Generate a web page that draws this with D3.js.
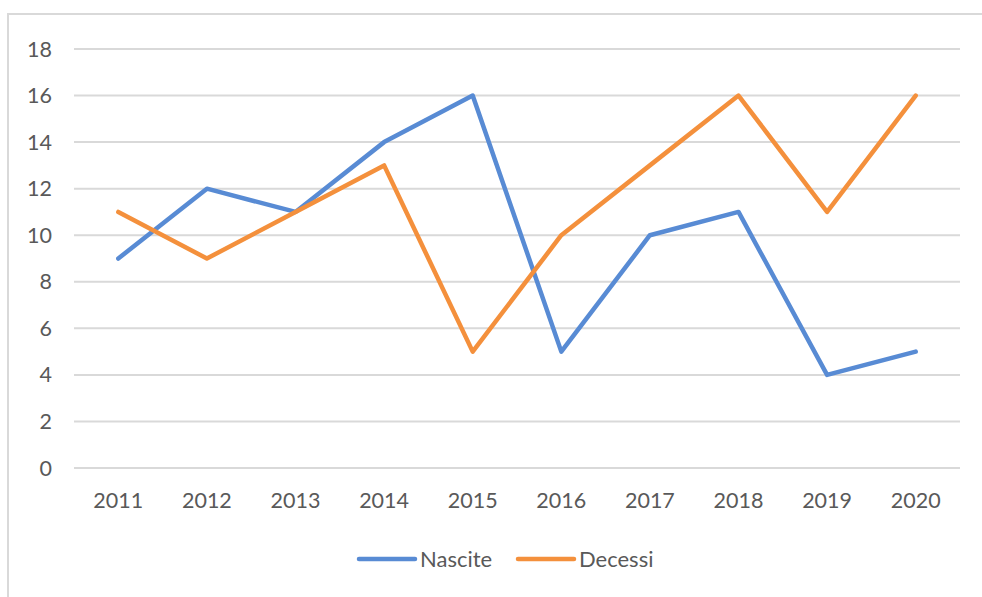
<!DOCTYPE html>
<html><head><meta charset="utf-8">
<script src="https://cdn.jsdelivr.net/npm/d3@7"></script>
<style>body{margin:0;background:#fff}svg{display:block}</style>
</head><body>
<svg id="c" width="982" height="597"></svg>
<script>
const years = ["2011","2012","2013","2014","2015","2016","2017","2018","2019","2020"];
const nascite = [9,12,11,14,16,5,10,11,4,5];
const decessi = [11,9,11,13,5,10,13,16,11,16];
const yTicks = [0,2,4,6,8,10,12,14,16,18];
const seriesNames = ["Nascite","Decessi"];
const colors = ["#588BD4","#F4903C"];

const svg = d3.select("#c");
const font = "Lato, 'Open Sans', sans-serif";
const textColor = "#595959";

svg.append("rect").attr("x",8).attr("y",14).attr("width",1000).attr("height",620)
  .attr("fill","#fff").attr("stroke","#d9d9d9").attr("stroke-width",2);

const x = d3.scaleBand().domain(years).range([74,960]);
const y = d3.scaleLinear().domain([0,18]).range([468,49]);

const g = svg.append("g");
g.selectAll("line.grid").data(yTicks).join("line")
  .attr("x1",74).attr("x2",960)
  .attr("y1",d=>y(d)).attr("y2",d=>y(d))
  .attr("stroke","#d9d9d9").attr("stroke-width",2);

g.selectAll("text.yl").data(yTicks).join("text")
  .attr("x",52).attr("y",d=>y(d)).attr("dy","0.35em")
  .attr("text-anchor","end").attr("font-family",font).attr("font-size",21.5)
  .attr("fill",textColor).text(d=>d);

g.selectAll("text.xl").data(years).join("text")
  .attr("x",d=>x(d)+x.bandwidth()/2).attr("y",500).attr("dy","0.35em")
  .attr("text-anchor","middle").attr("font-family",font).attr("font-size",21.5)
  .attr("fill",textColor).text(d=>d);

const line = d3.line().x((d,i)=>x(years[i])+x.bandwidth()/2).y(d=>y(d));
[nascite,decessi].forEach((s,k)=>{
  g.append("path").datum(s).attr("d",line).attr("fill","none")
    .attr("stroke",colors[k]).attr("stroke-width",4.5)
    .attr("stroke-linejoin","round").attr("stroke-linecap","round");
});

const legX = [359,518];
seriesNames.forEach((n,k)=>{
  g.append("line").attr("x1",legX[k]).attr("x2",legX[k]+56).attr("y1",559).attr("y2",559)
    .attr("stroke",colors[k]).attr("stroke-width",4.5).attr("stroke-linecap","round");
  g.append("text").attr("x",legX[k]+61).attr("y",559).attr("dy","0.35em")
    .attr("font-family",font).attr("font-size",22).attr("fill",textColor).text(n);
});
</script>
</body></html>
